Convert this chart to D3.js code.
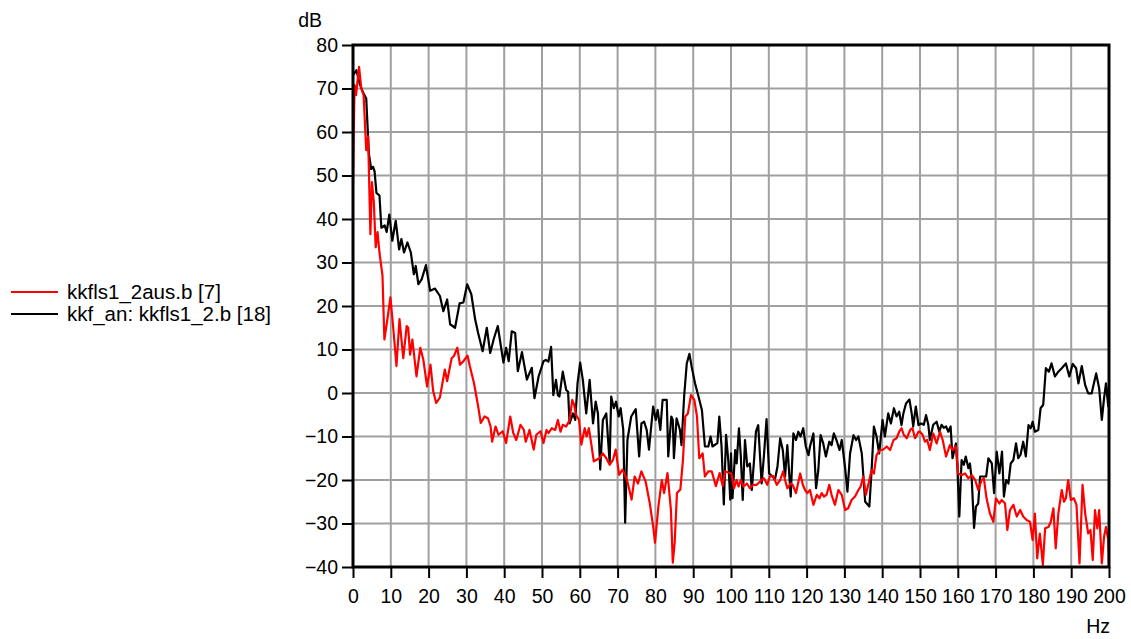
<!DOCTYPE html>
<html>
<head>
<meta charset="utf-8">
<script src="https://cdn.jsdelivr.net/npm/d3@7"></script>
<style>
  html, body { margin: 0; padding: 0; background: #fff; }
  svg { display: block; font-family: "Liberation Sans", Arial, sans-serif; }
</style>
</head>
<body>
<svg id="chart" width="1131" height="639"></svg>
<script>
// ---------- data ----------
const xTicks = [0,10,20,30,40,50,60,70,80,90,100,110,120,130,140,150,160,170,180,190,200];
const yTicks = [-40,-30,-20,-10,0,10,20,30,40,50,60,70,80];
const xUnit = "Hz";
const yUnit = "dB";
const seriesNames = ["kkfls1_2aus.b [7]", "kkf_an: kkfls1_2.b [18]"];
const seriesColors = ["#ff0000", "#000000"];

const redFreq = [0,0.4,0.8,1.6,2.2,2.8,3.5,4,4.6,5,5.5,6,6.5,7,7.8,8.3,9.1,9.9,10.6,11.5,12.3,13.3,14.2,14.6,15.1,15.7,16.8,17.8,18.6,19.6,20.5,21.2,22,23,24.3,24.9,26.1,26.7,27.6,28.3,29.2,30.3,30.9,32,33.1,33.8,34.8,35.7,36.4,36.8,37.7,38.5,39.6,40.5,41.6,42.4,43.2,44.3,45.2,45.7,46.7,47.8,48.5,49.6,50.4,51.2,51.7,52.6,53.5,54.2,54.9,55.5,56.4,57.3,58,58.5,59,59.8,60.4,61.3,61.8,62.4,63,63.7,64.6,65.2,66.1,67,67.9,68.8,69.5,70.4,71.3,72.5,73.7,74.5,75.4,76.3,77.4,78.5,79.4,79.9,80.8,81.7,82.3,83.2,84.1,84.6,85.1,85.7,86.6,87.3,87.9,88.6,89.4,90.3,91,91.6,92.5,93.1,94,94.9,96,97,97.8,98.4,99.6,100.1,100.8,101.5,102,102.6,103.3,104.2,105,105.9,106.8,108.1,108.7,109.6,110.3,111.2,112.1,113,113.8,114.3,114.9,115.8,116.3,117.2,118.3,119,119.6,120.2,120.9,121.8,122.7,123.4,124,124.6,125.3,126,126.6,127.5,128.4,129.3,130.2,131,131.9,132.8,133.7,134.3,135,135.7,136.6,137.2,137.8,138.5,139.4,140.3,141.2,142.1,143,143.8,144.5,145.1,145.7,146.5,147.4,148,148.7,149.6,150,150.7,151.3,151.9,152.6,153.5,154.4,155.3,156,156.9,157.9,158.6,159.5,160.1,161,161.9,162.8,163.7,164.6,165.4,166.3,166.9,167.6,168.5,169.4,170.1,171,171.6,172.5,173.1,173.8,174.7,175.6,176.5,177.3,178.2,179.1,179.8,180.4,181,181.7,182.5,183.1,184,184.6,185.3,185.9,186.6,187.5,188.1,188.6,189.2,189.9,190.7,191.4,192.2,193,193.7,194.5,195.1,195.7,196.3,196.9,197.4,198.1,198.7,199.2,199.8,200];
const redDb = [48,70.8,68.5,75,70,68.5,55.8,59,36.5,48.5,44,33.5,37,32.3,27,12.3,17,22,15.4,6.2,17,8,15.4,15,8.8,12.3,3.8,10.4,7.7,1.5,6.5,0.5,-2.3,-1,5.4,2.7,8,8.5,10.4,6.5,7.3,8.6,6.2,2.3,-3,-6.9,-5.4,-5.8,-7.7,-11.2,-7.7,-9.6,-8.8,-11.5,-5.4,-9.2,-10.8,-7.3,-8.5,-11.2,-8.5,-13,-9.6,-8.8,-11.5,-8.5,-9.2,-8.1,-8.5,-6.2,-8.9,-7.3,-7.7,-6.2,-1.6,-2.7,-5,-6.2,-11.9,-8.1,-10,-8.1,-11.5,-15.7,-15.3,-15,-13.9,-15,-16.5,-15.3,-13,-18.8,-17.6,-20,-24.5,-19.2,-20.8,-18,-20.3,-25.3,-30.6,-34.4,-26,-20,-23,-18.4,-26.8,-39,-34.4,-23,-22.2,-15.3,-5.4,-4.7,-0.5,-1.6,-5.4,-15,-13.9,-19.2,-18,-18,-21.4,-18.4,-21.4,-18,-18.4,-18.5,-21.9,-20,-21.5,-20,-21.5,-20.8,-21.9,-21.1,-21.1,-20,-19.6,-21.1,-19.2,-19.1,-21.1,-20,-18,-20,-21.9,-20.8,-21.1,-23,-18.5,-21.1,-22.3,-23,-22.3,-25.7,-23.4,-24.2,-23,-23.8,-23.4,-21.1,-23.4,-25.7,-22.3,-23.4,-26.9,-26.5,-24.6,-23.8,-22.3,-21.5,-19.2,-23.4,-20,-17.7,-18.5,-14.3,-13.1,-13,-12.3,-13.1,-10.8,-10.4,-8.9,-8.1,-9.6,-10.4,-8.5,-8.1,-10.4,-8.9,-8.9,-9.6,-11.2,-10.8,-13.1,-9.3,-11.6,-8.9,-10.8,-14.6,-12,-13.1,-12.3,-18.5,-18.9,-18.5,-19.6,-18.9,-20,-22.3,-20,-19.6,-24.2,-27.7,-29.6,-24.2,-25.4,-24.6,-25.4,-31.5,-26.9,-25.7,-28.4,-26.9,-28.4,-29.2,-29.6,-33.8,-27.7,-38,-32.3,-39.5,-31.1,-30.8,-29.6,-26.5,-35.7,-27.7,-22.3,-25,-24.2,-20,-24.6,-24.2,-25.7,-39.2,-21.1,-27.7,-32.3,-31.5,-38.4,-26.9,-31.1,-26.9,-39.2,-33,-30.8,-33.8,-40];

const blackFreq = [0,0.9,1.8,2.7,3.5,4.2,4.8,5.3,5.7,6.2,7,7.5,8.4,8.9,9.6,10.4,11.3,12.2,12.8,13.5,14.4,15.3,16.1,16.6,17.3,18.2,19.3,20.4,21.7,23,23.9,24.9,25.7,27,28.2,29.2,30.2,31.3,32.3,33.1,34.3,35.4,36.3,37.2,38.3,39.8,40.5,41.2,42,42.9,43.6,44.7,46,47.3,48,49.1,50.4,51,51.7,52.4,53,53.7,54.2,54.6,55.5,56.4,56.9,57.3,58.2,58.8,59.4,60.1,60.8,61.7,62.6,63.5,64.2,64.8,65.4,66.1,67,67.9,68.3,69,69.6,70.3,70.8,71.5,72,72.6,73.6,74.8,75.7,76.3,77,77.7,78.3,79.4,80.1,80.6,81.3,81.9,83,83.4,84.2,84.6,84.9,85.6,86.5,86.9,87.6,88.3,89,89.6,90.5,91.4,92.3,93.1,94,94.6,95.1,96.4,96.9,97.5,98.1,98.7,99.3,99.8,100,100.4,101.1,101.5,102.1,102.6,103.1,103.7,104.3,105,105.5,106.1,106.6,107.2,108.1,108.7,109.4,110.1,111,111.6,112.3,113,113.7,114.3,114.9,115.8,116.5,117.2,117.8,118.4,119.1,119.8,120.5,120.9,121.8,122.5,123.1,123.7,124.4,125.1,126,126.6,127.2,127.9,128.7,129.3,130.2,130.8,131.5,132.4,133.1,133.7,134.6,135.5,136.6,137.2,137.8,138.5,139.2,140.1,140.7,141.6,142.3,143.1,143.8,144.5,145.1,145.6,146.3,147.2,147.8,148.2,148.9,149.6,150.3,151,151.6,152.2,152.6,153.5,154.4,155.1,155.7,156.3,156.9,157.5,158.1,158.6,159.5,159.9,160.4,161,161.6,162.1,162.8,163.2,163.7,164.3,164.8,165.4,165.9,166.8,167.5,168.1,169,169.6,170.3,171,171.7,172.2,172.8,173.4,174,174.7,175.4,176,176.6,177.3,178,178.7,179.3,179.8,180.4,181.3,181.9,182.6,183.3,184.1,184.8,185.7,186.6,187.5,188.6,189.5,190.4,191.3,191.9,192.8,193.7,194.5,195.4,196.6,197.4,198.1,198.7,199.2,199.8,200];
const blackDb = [73,74.2,71,69,67.7,55,51.5,52,51,46,45.4,38,38.5,37,41,35,39.6,33,35.4,32.3,34.6,32.3,27.3,29.2,25,26.2,29.4,23.5,24,22.3,18.8,21.5,15.8,15,20.6,20.8,25,22.7,17,13.8,9.6,15,9.2,12.3,15.4,7,10.4,7.3,14.2,13.8,5,9.4,3.1,5.8,-1.2,3.8,7.3,7.6,7.2,10.6,-0.5,3,-0.5,-0.8,4.9,0.7,0.3,-7,-4.7,-6.2,2.2,7,3,-4.7,3,-7,-2,-4.7,-17.6,-6.2,-4.7,-16,-0.8,-3.5,-2,-5.4,-3.5,-8.5,-29.8,-10.8,-5.4,-3.7,-14.6,-7,-6.6,-8.5,-13,-3.1,-6.2,-3.9,-8.5,-1.6,-1.6,-14.6,-5.4,-6.2,-15,-5.8,-8.5,-12,-0.8,6.8,9,6,2.2,-0.8,-3.9,-12.3,-12.3,-10,-12.3,-11.5,-5.4,-12.3,-25.6,-9.6,-15.7,-24.5,-13.9,-24.2,-13.1,-16.2,-8.1,-14.6,-24.6,-10.8,-16.9,-16.2,-22.3,-15.4,-8.9,-7.4,-20.8,-14.6,-6,-18.5,-19.2,-20,-16.9,-10.4,-13.1,-19.2,-12,-23.8,-9.3,-10.8,-8.9,-10,-8.1,-12.3,-14.3,-12.3,-9.3,-21.9,-17.7,-9.7,-11.6,-14.6,-11.2,-12,-9.3,-10.8,-13.1,-10.8,-17.3,-22.7,-13.9,-9.7,-10.8,-10,-13.9,-25,-26.1,-17.7,-7.7,-10,-13.9,-6.2,-10,-4.7,-7,-3.5,-5.4,-4.3,-7.4,-4.7,-2.4,-1.5,-4.7,-7.7,-3.1,-7.4,-7,-7.3,-5.1,-7.3,-10.8,-7.3,-6.6,-8.9,-7.3,-8,-7.7,-8.9,-7.7,-15,-11.6,-17,-28.4,-15.4,-16.5,-14.6,-17.3,-16.2,-20,-31,-26.1,-25.4,-19.2,-19.2,-19.2,-15,-16.2,-23,-13.5,-18.5,-13.5,-23.8,-20,-20.8,-16.2,-15.4,-11.6,-15,-14.2,-11.2,-14.6,-7.4,-8.1,-6.6,-8.9,-8.5,-3.5,-2.7,5.7,4.9,6.8,3.8,4.9,5.7,6.8,3.8,6.7,5.7,2.2,6.2,1.8,-0.1,-0.1,4.5,1.1,-6.2,-1.2,2.2,-3.1,1.5];

// ---------- layout ----------
const W = 1131, H = 639;
const plot = { left: 353, right: 1109, top: 45, bottom: 567 };

const svg = d3.select("#chart");
const x = d3.scaleLinear().domain([0, 200]).range([plot.left, plot.right]);
const y = d3.scaleLinear().domain([-40, 80]).range([plot.bottom, plot.top]);

// grid
const grid = svg.append("g");
grid.selectAll("line.v").data(xTicks.slice(1, -1)).join("line")
  .attr("x1", d => x(d)).attr("x2", d => x(d))
  .attr("y1", plot.top).attr("y2", plot.bottom)
  .attr("stroke", "#a0a0a0").attr("stroke-width", 2);
grid.selectAll("line.h").data(yTicks.slice(1, -1)).join("line")
  .attr("x1", plot.left).attr("x2", plot.right)
  .attr("y1", d => y(d)).attr("y2", d => y(d))
  .attr("stroke", "#a0a0a0").attr("stroke-width", 2);

// clip
svg.append("clipPath").attr("id", "clip").append("rect")
  .attr("x", plot.left).attr("y", plot.top)
  .attr("width", plot.right - plot.left).attr("height", plot.bottom - plot.top);

const line = d3.line().x(d => x(d[0])).y(d => y(d[1]));
const series = [
  { f: blackFreq, v: blackDb, color: seriesColors[1] },
  { f: redFreq, v: redDb, color: seriesColors[0] }
];
const lines = svg.append("g").attr("clip-path", "url(#clip)");
series.forEach(s => {
  lines.append("path")
    .datum(s.f.map((f, i) => [f, s.v[i]]))
    .attr("d", line)
    .attr("fill", "none")
    .attr("stroke", s.color)
    .attr("stroke-width", 2.2)
    .attr("stroke-linejoin", "round");
});

// axes
const fontSize = 19.5;
const legendFont = 20.5;
const yAxis = svg.append("g").attr("transform", `translate(${plot.left},0)`)
  .call(d3.axisLeft(y).tickValues(yTicks).tickSize(11).tickPadding(4).tickFormat(d3.format("d")));
const xAxis = svg.append("g").attr("transform", `translate(0,${plot.bottom})`)
  .call(d3.axisBottom(x).tickValues(xTicks).tickSize(11).tickPadding(11).tickFormat(d3.format("d")));
[yAxis, xAxis].forEach(a => {
  a.select(".domain").remove();
  a.selectAll(".tick line").attr("stroke", "#000").attr("stroke-width", 2);
  a.selectAll(".tick text").attr("fill", "#000").style("font-size", fontSize + "px")
    .style("font-family", "Liberation Sans, Arial, sans-serif");
});

// frame
svg.append("rect")
  .attr("x", plot.left).attr("y", plot.top)
  .attr("width", plot.right - plot.left).attr("height", plot.bottom - plot.top)
  .attr("fill", "none").attr("stroke", "#000").attr("stroke-width", 3);

// units
svg.append("text").attr("x", 322).attr("y", 27).attr("text-anchor", "end")
  .style("font-size", fontSize + "px").text(yUnit);
svg.append("text").attr("x", 1110).attr("y", 633).attr("text-anchor", "end")
  .style("font-size", fontSize + "px").text(xUnit);

// legend
const legend = svg.append("g");
seriesNames.forEach((name, i) => {
  const ly = 292 + i * 22;
  legend.append("line").attr("x1", 11).attr("x2", 58).attr("y1", ly).attr("y2", ly)
    .attr("stroke", seriesColors[i]).attr("stroke-width", 2);
  legend.append("text").attr("x", 67).attr("y", ly).attr("dy", "0.35em")
    .style("font-size", legendFont + "px").text(name);
});
</script>
</body>
</html>
